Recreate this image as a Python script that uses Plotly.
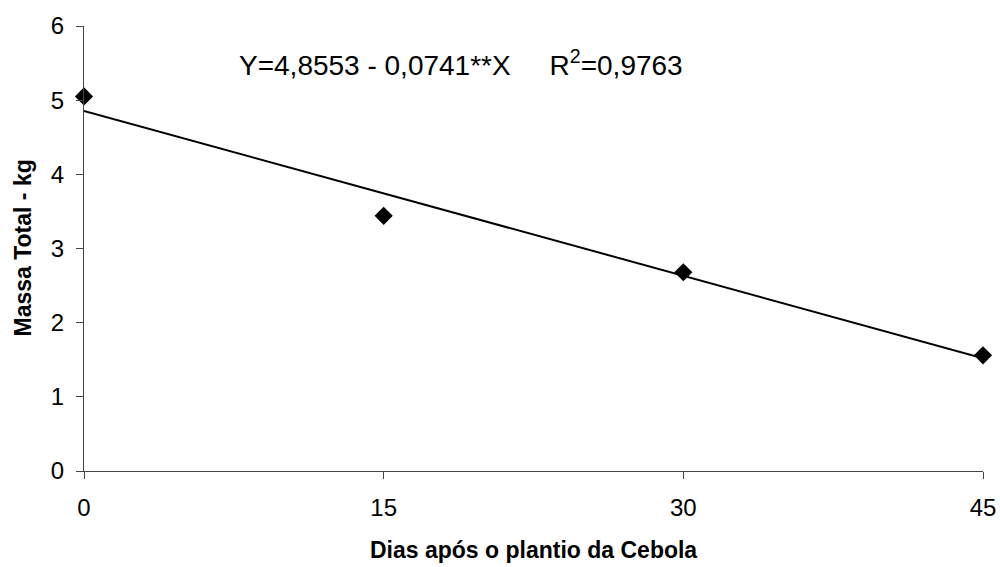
import plotly.graph_objects as go

dias = [0, 15, 30, 45]
massa = [5.05, 3.44, 2.68, 1.56]
intercept = 4.8553
slope = -0.0741
x_ticks = [0, 15, 30, 45]
y_ticks = [0, 1, 2, 3, 4, 5, 6]

fit_x = [dias[0], dias[-1]]
fit_y = [intercept + slope * v for v in fit_x]

FONT = "Liberation Sans, Arial, sans-serif"

W, H = 1000, 567
L, T, R, B = 84, 26, 17, 96
plot_h = H - T - B

fig = go.Figure()
fig.add_trace(go.Scatter(x=fit_x, y=fit_y, mode="lines",
                         line=dict(color="black", width=2), showlegend=False,
                         cliponaxis=False))
fig.add_trace(go.Scatter(x=dias, y=massa, mode="markers",
                         marker=dict(symbol="diamond", size=14, color="black"),
                         showlegend=False, cliponaxis=False))

# regression equation
fig.add_annotation(x=0.419, y=(plot_h - 37) / plot_h, xref="paper", yref="paper",
                   xanchor="center", yanchor="middle",
                   text="Y=4,8553 - 0,0741**X     R<sup>2</sup>=0,9763",
                   showarrow=False, font=dict(size=28, color="black", family=FONT))

# axis titles
fig.add_annotation(x=0.5, y=0, xref="paper", yref="paper", xanchor="center",
                   yanchor="middle", yshift=-79, showarrow=False,
                   text="<b>Dias após o plantio da Cebola</b>",
                   font=dict(size=23, color="black", family=FONT))
fig.add_annotation(x=0, y=0.5, xref="paper", yref="paper", xanchor="center",
                   yanchor="middle", xshift=-62, showarrow=False, textangle=-90,
                   text="<b>Massa Total - kg</b>",
                   font=dict(size=23, color="black", family=FONT))

fig.update_layout(
    width=W, height=H,
    margin=dict(l=L, r=R, t=T, b=B),
    plot_bgcolor="white", paper_bgcolor="white",
    font=dict(family=FONT, color="black"),
    xaxis=dict(range=[0, 45], tickvals=x_ticks, ticks="outside", ticklen=7,
               tickcolor="#444", showline=True, linecolor="#444", linewidth=1.3,
               showgrid=False, zeroline=False, tickfont=dict(size=24),
               ticklabelstandoff=8, automargin=False),
    yaxis=dict(range=[0, 6], tickvals=y_ticks, ticks="outside", ticklen=7,
               tickcolor="#444", showline=True, linecolor="#444", linewidth=1.3,
               showgrid=False, zeroline=False, tickfont=dict(size=24),
               ticklabelstandoff=7, automargin=False),
)

fig.write_html(
    "out.html",
    config={"displayModeBar": False},
    post_script=(
        "document.body.style.margin='0';"
        "document.body.style.overflow='hidden';"
        "document.documentElement.style.overflow='hidden';"
    ),
)
